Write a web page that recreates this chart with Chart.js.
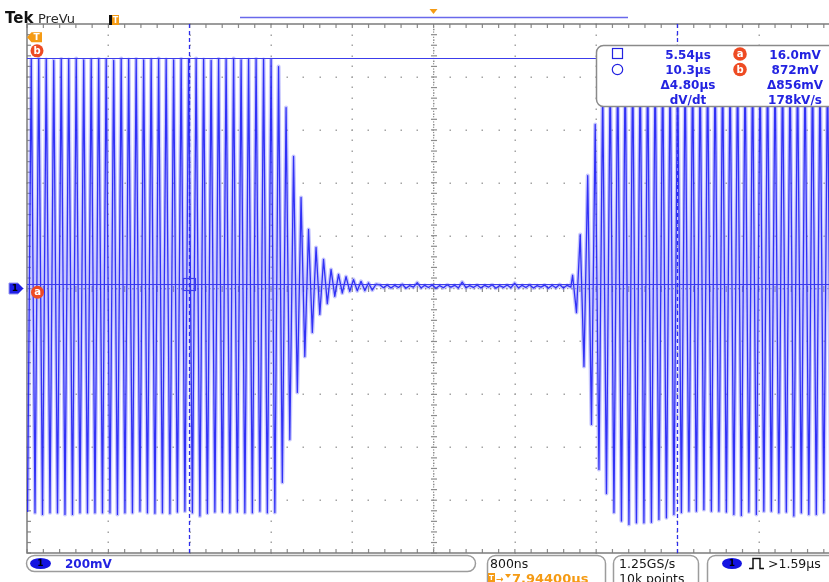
<!DOCTYPE html>
<html>
<head>
<meta charset="utf-8">
<script src="https://cdn.jsdelivr.net/npm/chart.js@4/dist/chart.umd.min.js"></script>
<style>
  html, body { margin: 0; padding: 0; background: #fff; overflow: hidden; }
  canvas { display: block; }
</style>
</head>
<body>
<canvas id="scope" width="829" height="582"></canvas>
<script>
// ---- Channel 1 trace: turning points of the 13.56 MHz carrier ----
// time in ns after the trigger, level in mV

// first burst, full amplitude
const burstOneTimesNs = [3949, 3985.9, 4022.8, 4059.6, 4096.5, 4133.4, 4170.3, 4207.1, 4244, 4280.9,
  4317.8, 4354.6, 4391.5, 4428.4, 4465.3, 4502.1, 4539, 4575.9, 4612.8, 4649.6,
  4686.5, 4723.4, 4760.3, 4797.1, 4834, 4870.9, 4907.8, 4944.6, 4981.5, 5018.4,
  5055.3, 5092.1, 5129, 5165.9, 5202.8, 5239.6, 5276.5, 5313.4, 5350.3, 5387.1,
  5424, 5460.9, 5497.8, 5534.6, 5571.5, 5608.4, 5645.3, 5682.1, 5719, 5755.9,
  5792.8, 5829.6, 5866.5, 5903.4, 5940.3, 5977.1, 6014, 6050.9, 6087.8, 6124.6,
  6161.5, 6198.4, 6235.3, 6272.1, 6309, 6345.9];
const burstOneLevelsMv = [-845, 866, -848, 870, -854, 866, -848, 862, -848, 868,
  -854, 866, -854, 870, -848, 864, -848, 866, -848, 868,
  -848, 866, -848, 862, -854, 870, -848, 866, -848, 868,
  -842, 864, -848, 866, -850, 870, -848, 866, -851, 864,
  -845, 868, -842, 866, -848, 870, -860, 866, -850, 862,
  -845, 868, -845, 866, -848, 870, -845, 864, -848, 866,
  -848, 868, -842, 866, -848, 866];

// carrier switched off: ring-down
const ringTimesNs = [6382.8, 6419.6, 6456.5, 6493.4, 6530.3, 6567.1, 6604, 6640.9, 6677.8, 6714.6,
  6751.5, 6788.4, 6825.3, 6862.1, 6899, 6935.9, 6972.8, 7009.6, 7046.5, 7083.4,
  7120.3, 7157.1, 7194, 7230.9, 7267.8, 7304.6, 7341.5, 7378.4];
const ringLevelsMv = [-847, 839, -733, 684, -571, 499, -393, 344, -257, 223,
  -166, 155, -98, 110, -57, 72, -30, 53, -17, 45,
  -11, 34, -9, 27, -8, 21, -6, 16];

// quiet gap, ending in the switch-on glitch
const quietTimesNs = [7415.3, 7452.1, 7489, 7525.9, 7562.8, 7599.6, 7636.5, 7673.4, 7710.3, 7747.1,
  7784, 7820.9, 7857.8, 7894.6, 7931.5, 7968.4, 8005.3, 8042.1, 8079, 8115.9,
  8152.8, 8189.6, 8226.5, 8263.4, 8300.3, 8337.1, 8374, 8410.9, 8447.8, 8484.6,
  8521.5, 8558.4, 8595.3, 8632.1, 8669, 8705.9, 8742.8, 8779.6, 8816.5, 8853.4,
  8890.3, 8927.1, 8964, 9000.9, 9037.8, 9074.6, 9111.5, 9148.4, 9185.3, 9222.1,
  9259, 9295.9, 9313];
const quietLevelsMv = [14, 3, 13, 2, 12, 4, 16, 1, 11, 5,
  22, 2, 12, 4, 13, 1, 11, 3, 14, 5,
  12, 2, 24, 3, 11, 4, 13, 2, 12, 5,
  14, 1, 11, 4, 13, 3, 20, 2, 12, 4,
  14, 2, 11, 5, 13, 1, 12, 3, 15, 2,
  12, 5, 50];

// second burst, ramping up
const burstTwoTimesNs = [9351, 9387.9, 9424.8, 9461.6, 9498.5, 9535.4, 9572.3, 9609.1, 9646, 9682.9,
  9719.8, 9756.6, 9793.5, 9830.4, 9867.3, 9904.1, 9941, 9977.9, 10014.8, 10051.6,
  10088.5, 10125.4, 10162.3, 10199.1, 10236, 10272.9, 10309.8, 10346.6, 10383.5, 10420.4,
  10457.3, 10494.1, 10531, 10567.9, 10604.8, 10641.6, 10678.5, 10715.4, 10752.3, 10789.1,
  10826, 10862.9, 10899.8, 10936.6, 10973.5, 11010.4, 11047.3, 11084.1, 11121, 11157.9,
  11194.8, 11231.6, 11268.5, 11305.4, 11342.3, 11379.1, 11416, 11452.9, 11489.8, 11526.6,
  11563.5, 11600.4, 11637.3, 11674.1, 11711, 11747.9, 11784.8, 11821.6, 11858.5];
const burstTwoLevelsMv = [-91, 204, -295, 427, -514, 620, -684, 760, -775, 840,
  -847, 872, -879, 880, -892, 882, -886, 880, -886, 878,
  -884, 880, -873, 876, -867, 874, -854, 872, -847, 870,
  -842, 870, -842, 868, -836, 870, -842, 872, -842, 870,
  -845, 868, -854, 872, -858, 870, -845, 868, -854, 870,
  -842, 872, -842, 868, -848, 870, -845, 872, -860, 868,
  -848, 870, -854, 872, -854, 868, -848, 870, -850];

// ---- Display settings ----
const timePerDivNs = 800;
const voltsPerDivMv = 200;
const sweepStartNs = 3944;        // left graticule edge
const sweepShownNs = 7892;        // span visible in the window
const triggerLevelMv = 950;

// ---- Cursors and readout ----
const cursorTimesNs = [5540, 10340];
const cursorLevelsMv = [16.0, 872];
const readoutTimeText = ['5.54µs', '10.3µs', 'Δ4.80µs', 'dV/dt'];
const readoutLevelText = ['16.0mV', '872mV', 'Δ856mV', '178kV/s'];

// ---- Status bar ----
const channelScaleText = '200mV';
const timebaseText = '800ns';
const delayText = '7.94400µs';
const sampleRateText = '1.25GS/s';
const recordLengthText = '10k points';
const triggerText = '>1.59µs';

const FONT = '"DejaVu Sans", sans-serif';
const BLUE = 'rgb(35,35,225)';
const ORANGE = 'rgb(245,155,20)';
const RED = 'rgb(238,75,35)';

const toPoints = (ts, vs) => ts.map((t, i) => ({ x: t, y: vs[i] }));
const trace = [].concat(
  toPoints(burstOneTimesNs, burstOneLevelsMv),
  toPoints(ringTimesNs, ringLevelsMv),
  toPoints(quietTimesNs, quietLevelsMv),
  toPoints(burstTwoTimesNs, burstTwoLevelsMv)
);

function text(ctx, s, x, y, font, color, align) {
  ctx.font = font;
  ctx.fillStyle = color;
  ctx.textAlign = align || 'left';
  ctx.textBaseline = 'alphabetic';
  ctx.fillText(s, x, y);
}

function letterBadge(ctx, cx, cy, r, fill, letter, color) {
  ctx.beginPath();
  ctx.arc(cx, cy, r, 0, Math.PI * 2);
  ctx.fillStyle = fill;
  ctx.fill();
  ctx.font = 'bold 10px ' + FONT;
  ctx.fillStyle = color;
  ctx.textAlign = 'center';
  ctx.textBaseline = 'middle';
  ctx.fillText(letter, cx, cy + 0.5);
}

// dotted graticule with centre-line and border ticks
const graticule = {
  id: 'graticule',
  beforeDatasetsDraw(chart) {
    const { ctx, chartArea: a, scales: { x, y } } = chart;
    ctx.save();
    const xDivs = [], yDivs = [], xMinor = [], yMinor = [];
    for (let t = sweepStartNs; t <= sweepStartNs + sweepShownNs + 1; t += timePerDivNs) xDivs.push(x.getPixelForValue(t));
    for (let v = -5 * voltsPerDivMv; v <= 5 * voltsPerDivMv; v += voltsPerDivMv) yDivs.push(y.getPixelForValue(v));
    for (let t = sweepStartNs; t <= sweepStartNs + sweepShownNs; t += timePerDivNs / 5) xMinor.push(x.getPixelForValue(t));
    for (let v = -5 * voltsPerDivMv; v <= 5 * voltsPerDivMv; v += voltsPerDivMv / 5) yMinor.push(y.getPixelForValue(v));
    const xc = x.getPixelForValue(sweepStartNs + 5 * timePerDivNs);
    const yc = y.getPixelForValue(0);

    ctx.fillStyle = '#a4a4a4';
    xDivs.forEach((px, i) => {
      if (i === 0 || i === 5) return;
      yMinor.forEach(py => ctx.fillRect(Math.round(px) - 0.5, Math.round(py) - 0.5, 1.5, 1.5));
    });
    yDivs.forEach((py, i) => {
      if (i === 0 || i === 5 || i === 10) return;
      xMinor.forEach(px => ctx.fillRect(Math.round(px) - 0.5, Math.round(py) - 0.5, 1.5, 1.5));
    });
    ctx.fillStyle = '#8c8c8c';
    for (let i = 0; i < yMinor.length - 1; i++) {
      const p = yMinor[i], q = yMinor[i + 1];
      ctx.fillRect(xc - 2.5, p - 0.5, 6, 1.2);
      ctx.fillRect(xc - 0.5, (p + q) / 2 - 0.5, 1.5, 1.5);
      ctx.fillRect(xc - 0.5, p + (q - p) * 0.25 - 0.5, 1.2, 1.2);
      ctx.fillRect(xc - 0.5, p + (q - p) * 0.75 - 0.5, 1.2, 1.2);
    }
    for (let i = 0; i < xMinor.length; i++) {
      const p = xMinor[i], q = xMinor[i + 1] || (p + 16);
      ctx.fillRect(p - 0.5, yc - 2.5, 1.2, 6);
      ctx.fillRect((p + q) / 2 - 0.5, yc - 0.5, 1.5, 1.5);
      ctx.fillRect(p + (q - p) * 0.25 - 0.5, yc - 0.5, 1.2, 1.2);
      ctx.fillRect(p + (q - p) * 0.75 - 0.5, yc - 0.5, 1.2, 1.2);
    }
    ctx.fillStyle = '#8a8a8a';
    yMinor.forEach(py => ctx.fillRect(a.left, py - 0.5, 4, 1.2));
    xMinor.forEach(px => {
      ctx.fillRect(px - 0.5, a.top, 1.2, 4);
      ctx.fillRect(px - 0.5, a.bottom - 4, 1.2, 4);
    });
    ctx.strokeStyle = '#7c7c7c';
    ctx.lineWidth = 1.5;
    ctx.beginPath();
    ctx.moveTo(a.right + 2, a.top);
    ctx.lineTo(a.left, a.top);
    ctx.lineTo(a.left, a.bottom);
    ctx.lineTo(a.right + 2, a.bottom);
    ctx.stroke();
    ctx.restore();
  }
};

// cursors, markers, readouts and the status bar
const overlay = {
  id: 'overlay',
  afterDatasetsDraw(chart) {
    const { ctx, chartArea: a, scales: { x, y } } = chart;
    ctx.save();
    ctx.beginPath();
    ctx.rect(a.left, a.top, a.right - a.left, a.bottom - a.top);
    ctx.clip();

    const ca = x.getPixelForValue(cursorTimesNs[0]);
    const cb = x.getPixelForValue(cursorTimesNs[1]);
    const la = y.getPixelForValue(cursorLevelsMv[0]);
    const lb = y.getPixelForValue(cursorLevelsMv[1]);

    ctx.strokeStyle = 'rgb(60,60,235)';
    ctx.lineWidth = 1;
    ctx.beginPath();
    ctx.moveTo(a.left, Math.round(la) + 0.5); ctx.lineTo(a.right, Math.round(la) + 0.5);
    ctx.moveTo(a.left, Math.round(lb) + 0.5); ctx.lineTo(a.right, Math.round(lb) + 0.5);
    ctx.stroke();

    ctx.setLineDash([4, 3]);
    ctx.strokeStyle = 'rgb(45,45,235)';
    ctx.lineWidth = 1.3;
    ctx.beginPath();
    ctx.moveTo(Math.round(ca) + 0.5, a.top); ctx.lineTo(Math.round(ca) + 0.5, a.bottom);
    ctx.moveTo(Math.round(cb) + 0.5, a.top); ctx.lineTo(Math.round(cb) + 0.5, a.bottom);
    ctx.stroke();
    ctx.setLineDash([]);

    ctx.strokeStyle = 'rgb(60,60,235)';
    ctx.lineWidth = 1.2;
    ctx.strokeRect(Math.round(ca) - 5.5, Math.round(la) - 5.5, 12, 12);
    ctx.beginPath();
    ctx.arc(Math.round(cb) + 0.5, Math.round(lb) + 0.5, 5.5, 0, Math.PI * 2);
    ctx.stroke();
    ctx.restore();

    // left-edge markers
    const yt = y.getPixelForValue(triggerLevelMv);
    ctx.save();
    ctx.fillStyle = ORANGE;
    ctx.beginPath();
    ctx.moveTo(27, yt); ctx.lineTo(31.5, yt - 5); ctx.lineTo(42, yt - 5);
    ctx.lineTo(42, yt + 5); ctx.lineTo(31.5, yt + 5); ctx.closePath();
    ctx.fill();
    ctx.font = 'bold 9px ' + FONT;
    ctx.fillStyle = '#fff';
    ctx.textAlign = 'center';
    ctx.textBaseline = 'middle';
    ctx.fillText('T', 36.5, yt + 0.5);
    letterBadge(ctx, 37, lb - 7, 6.5, RED, 'b', '#fff');
    letterBadge(ctx, 37.5, la + 8, 6.5, RED, 'a', '#fff');

    const y0 = y.getPixelForValue(0);
    ctx.fillStyle = 'rgb(30,30,230)';
    ctx.strokeStyle = 'rgb(150,150,240)';
    ctx.lineWidth = 1;
    ctx.beginPath();
    ctx.moveTo(9, y0 - 5.5); ctx.lineTo(18, y0 - 5.5); ctx.lineTo(23.5, y0);
    ctx.lineTo(18, y0 + 5.5); ctx.lineTo(9, y0 + 5.5); ctx.closePath();
    ctx.fill(); ctx.stroke();
    ctx.font = 'bold 9px ' + FONT;
    ctx.fillStyle = '#000';
    ctx.fillText('1', 15, y0 + 0.5);
    ctx.restore();

    // cursor readout box
    ctx.save();
    ctx.beginPath();
    ctx.roundRect(596.5, 45.5, 250, 61, 7);
    ctx.fillStyle = '#fff';
    ctx.fill();
    ctx.strokeStyle = '#8a8a8a';
    ctx.lineWidth = 1.5;
    ctx.stroke();
    ctx.strokeStyle = BLUE;
    ctx.lineWidth = 1.2;
    ctx.strokeRect(612.5, 48.5, 10, 10);
    ctx.beginPath();
    ctx.arc(617.5, 69.5, 5.2, 0, Math.PI * 2);
    ctx.stroke();
    letterBadge(ctx, 740, 54, 6.8, RED, 'a', '#fff');
    letterBadge(ctx, 740, 69.5, 6.8, RED, 'b', '#fff');
    const rows = [59, 74, 89, 104];
    rows.forEach((by, i) => {
      text(ctx, readoutTimeText[i], 688, by, 'bold 12px ' + FONT, BLUE, 'center');
      text(ctx, readoutLevelText[i], 795, by, 'bold 12px ' + FONT, BLUE, 'center');
    });
    ctx.restore();
  },
  afterDraw(chart) {
    const { ctx, scales: { x } } = chart;
    ctx.save();
    text(ctx, 'Tek', 5, 23, 'bold 15px ' + FONT, '#111');
    text(ctx, 'PreVu', 38, 23, '13px ' + FONT, '#2a2a2a');
    ctx.strokeStyle = 'rgb(105,105,235)';
    ctx.lineWidth = 1.5;
    ctx.beginPath();
    ctx.moveTo(240, 17.5); ctx.lineTo(628, 17.5);
    ctx.stroke();
    const xc = x.getPixelForValue(sweepStartNs + 5 * timePerDivNs);
    ctx.fillStyle = ORANGE;
    ctx.beginPath();
    ctx.moveTo(xc - 4, 9); ctx.lineTo(xc + 4, 9); ctx.lineTo(xc, 14); ctx.closePath();
    ctx.fill();
    ctx.fillStyle = '#111';
    ctx.fillRect(109, 15, 3, 10);
    ctx.fillStyle = ORANGE;
    ctx.fillRect(112, 15, 7, 10);
    ctx.font = 'bold 8px ' + FONT;
    ctx.fillStyle = '#fff';
    ctx.textAlign = 'center';
    ctx.textBaseline = 'middle';
    ctx.fillText('T', 115.5, 20.5);

    ctx.strokeStyle = '#9c9c9c';
    ctx.lineWidth = 1.5;
    ctx.fillStyle = '#fff';
    [[26.5, 555.5, 449, 16], [487.5, 555.5, 118, 40], [613.5, 555.5, 85, 40], [707.5, 555.5, 140, 40]]
      .forEach(([bx, by, bw, bh]) => {
        ctx.beginPath();
        ctx.roundRect(bx, by, bw, bh, 8);
        ctx.fill();
        ctx.stroke();
      });

    ctx.fillStyle = 'rgb(20,20,225)';
    ctx.beginPath(); ctx.ellipse(40.5, 563.5, 10.5, 5.5, 0, 0, Math.PI * 2); ctx.fill();
    ctx.font = 'bold 9px ' + FONT;
    ctx.fillStyle = '#000';
    ctx.textAlign = 'center'; ctx.textBaseline = 'middle';
    ctx.fillText('1', 40.5, 564);
    text(ctx, channelScaleText, 65, 568, 'bold 12px ' + FONT, BLUE);

    text(ctx, timebaseText, 490, 568, '12.5px ' + FONT, '#151515');
    ctx.fillStyle = ORANGE;
    ctx.fillRect(488, 573, 7, 10);
    ctx.font = 'bold 7px ' + FONT;
    ctx.fillStyle = '#fff';
    ctx.textAlign = 'center'; ctx.textBaseline = 'middle';
    ctx.fillText('T', 491.5, 578);
    text(ctx, '→', 496, 582, 'bold 9px ' + FONT, ORANGE);
    ctx.fillStyle = ORANGE;
    ctx.beginPath(); ctx.moveTo(505, 574); ctx.lineTo(511, 574); ctx.lineTo(508, 578); ctx.closePath(); ctx.fill();
    text(ctx, delayText, 512, 583, 'bold 13px ' + FONT, ORANGE);

    text(ctx, sampleRateText, 619, 568, '12.5px ' + FONT, '#151515');
    text(ctx, recordLengthText, 619, 582.5, '12.5px ' + FONT, '#151515');

    ctx.fillStyle = 'rgb(20,20,225)';
    ctx.beginPath(); ctx.ellipse(732, 563.5, 10, 5.5, 0, 0, Math.PI * 2); ctx.fill();
    ctx.font = 'bold 9px ' + FONT;
    ctx.fillStyle = '#000';
    ctx.textAlign = 'center'; ctx.textBaseline = 'middle';
    ctx.fillText('1', 732, 564);
    ctx.strokeStyle = '#111';
    ctx.lineWidth = 1.5;
    ctx.beginPath();
    ctx.moveTo(749, 568.5); ctx.lineTo(753, 568.5); ctx.lineTo(753, 558.5);
    ctx.lineTo(760, 558.5); ctx.lineTo(760, 568.5); ctx.lineTo(764, 568.5);
    ctx.stroke();
    text(ctx, triggerText, 768, 568, '12.5px ' + FONT, '#151515');
    ctx.restore();
  }
};

new Chart(document.getElementById('scope').getContext('2d'), {
  type: 'line',
  data: {
    datasets: [
      {
        // sharp trace core
        label: 'CH1',
        data: trace,
        order: 0,
        borderColor: 'rgba(28,28,245,0.88)',
        borderWidth: 1.3,
        borderJoinStyle: 'round',
        pointRadius: 0,
        tension: 0,
        fill: false
      },
      {
        // phosphor glow around the trace
        label: 'CH1 glow',
        data: trace,
        order: 1,
        borderColor: 'rgba(130,130,250,0.45)',
        borderWidth: 4,
        borderJoinStyle: 'round',
        pointRadius: 0,
        tension: 0,
        fill: false
      }
    ]
  },
  options: {
    responsive: false,
    animation: false,
    events: [],
    parsing: false,
    normalized: true,
    layout: { padding: { left: 27, top: 24, right: 0, bottom: 29 } },
    plugins: { legend: { display: false }, tooltip: { enabled: false } },
    scales: {
      x: { type: 'linear', min: sweepStartNs, max: sweepStartNs + sweepShownNs, display: false },
      y: { type: 'linear', min: -5 * voltsPerDivMv, max: 5 * voltsPerDivMv, display: false }
    }
  },
  plugins: [graticule, overlay]
});
</script>
</body>
</html>
